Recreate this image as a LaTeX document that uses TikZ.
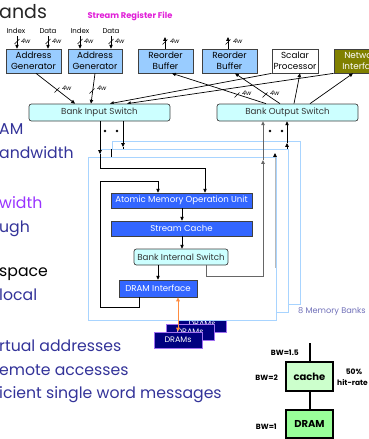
\documentclass[tikz,border=0pt]{standalone}
\usepackage{fontspec}
\setmainfont{Poppins}
\usetikzlibrary{arrows.meta,calc,backgrounds}
\definecolor{boxblue}{HTML}{99CCFF}
\definecolor{swcyan}{HTML}{CCFFFF}
\definecolor{unitblue}{HTML}{3366FF}
\definecolor{niolive}{HTML}{808000}
\definecolor{bankedge}{HTML}{A8D4FF}
\definecolor{dramnavy}{HTML}{000080}
\definecolor{dramedge}{HTML}{A070F0}
\definecolor{orng}{HTML}{FF8C40}
\definecolor{slideblue}{HTML}{333399}
\definecolor{slidepurple}{HTML}{9933FF}
\definecolor{srfmag}{HTML}{E020D8}
\definecolor{bankslabel}{HTML}{6F6FB8}
\definecolor{cachegreen}{HTML}{CCFFCC}
\definecolor{dramgreen}{HTML}{99FF99}
\newcommand{\fs}[1]{\fontsize{#1}{#1}\selectfont}
\newcommand{\wtick}[1]{\draw[line width=0.6pt] ($#1+(-2.5,2.5)$) -- ($#1+(2.5,-2.5)$);}
\tikzset{
 bul/.style={anchor=base west, inner sep=0pt, font=\fs{15.7}, text=slideblue},
 topbox/.style={draw=black!75, line width=0.7pt, fill=boxblue, minimum height=24pt, inner sep=0pt, align=center, font=\fontsize{8.8}{11}\selectfont},
 swbox/.style={draw=black!75, line width=0.7pt, fill=swcyan, rounded corners=2.5pt, minimum height=17pt, inner sep=0pt, font=\fs{8.7}, text=black!80},
 unitbox/.style={draw=black!75, line width=0.7pt, fill=unitblue, text=white, minimum height=15pt, inner sep=0pt, font=\fs{8.6}},
 bankbox/.style={draw=bankedge, line width=0.8pt, fill=white},
 drambox/.style={draw=dramedge, line width=0.8pt, fill=dramnavy, text=white, minimum width=48pt, minimum height=16pt, inner sep=0pt, font=\fs{8}},
 conn/.style={line width=0.7pt},
 outconn/.style={line width=1pt, draw=black!60},
 tip/.style={-{Triangle[length=3.8pt,width=3.4pt]}},
 wlab/.style={font=\itshape\fs{6.3}, inner sep=0pt, anchor=west},
 small/.style={font=\fs{7}, inner sep=0pt},
 bwlab/.style={font=\bfseries\fs{7.5}, inner sep=0pt},
 bwbox/.style={draw=black, line width=1.4pt, minimum width=47pt, inner sep=0pt, font=\bfseries\fs{10}},
}
\begin{document}
\begin{tikzpicture}[x=1pt,y=-1pt]
\useasboundingbox (0,0) rectangle (369,439);
\clip (0,0) rectangle (369,439);
% slide text fragments
\node[anchor=base west, inner sep=0pt, font=\fs{19}, text=black!85] (ttl) at (-1,19) {ands};
\node[anchor=base, inner sep=0pt, font=\bfseries\fs{8.3}, text=srfmag] (srf) at (130,18) {Stream Register File};
\node[bul] (b1) at (-1,134) {AM};
\node[bul] (b2) at (-1,158) {andwidth};
\node[bul, text=slidepurple] (b3) at (-1,208) {width};
\node[bul] (b4) at (-1,232) {ugh};
\node[bul, text=black] (b5) at (-1,276) {space};
\node[bul] (b6) at (-1,300) {local};
\node[bul] (b7) at (-1,351) {rtual addresses};
\node[bul] (b8) at (-1,375) {emote accesses};
\node[bul] (b9) at (-1,398) {icient single word messages};
% top row
\node[topbox, minimum width=55pt] (ag1) at (33.5,61) {Address\\Generator};
\node[topbox, minimum width=54pt] (ag2) at (95,61) {Address\\Generator};
\node[topbox, minimum width=55pt] (rb1) at (165.5,61) {Reorder\\Buffer};
\node[topbox, minimum width=55pt] (rb2) at (229.5,61) {Reorder\\Buffer};
\node[topbox, minimum width=46pt, fill=white] (sp) at (295,61) {Scalar\\Processor};
\node[topbox, minimum width=56pt, fill=niolive, text=white] (ni) at (362,61) {Network\\Interface};
\node[small] (i1) at (16,31) {Index};
\node[small] (d1) at (48,31) {Data};
\node[small] (i2) at (80,31) {Index};
\node[small] (d2) at (111,31) {Data};
\foreach \xx/\nn in {17/ag1,48/ag1,80/ag2,111/ag2}{
  \draw[conn,tip] (\xx,36) -- (\xx,0 |- \nn.north);
  \wtick{(\xx,41.5)}
  \node[wlab] at (\xx+4,41) {4w};
}
\foreach \xx/\nn in {165/rb1,228/rb2}{
  \draw[conn,tip] (\xx,0 |- \nn.north) -- (\xx,37);
  \wtick{(\xx,42)}
  \node[wlab] at (\xx+5,41) {4w};
}
% switches
\node[swbox, minimum width=141pt] (bis) at (99.5,112.5) {Bank Input Switch};
\node[swbox, minimum width=141pt] (bos) at (287.5,112.5) {Bank Output Switch};
% top connections
\draw[conn,tip] (36,0 |- ag1.south) -- (75,0 |- bis.north);
\wtick{(57,90)}
\node[wlab] at (62,88) {4w};
\draw[conn,tip] (95,0 |- ag2.south) -- (91,0 |- bis.north);
\wtick{(92,91)}
\node[wlab] at (97,88) {4w};
\begin{pgfonlayer}{background}
\draw[conn,tip] (sp.south west) -- (110,0 |- bis.north);
\draw[conn,tip] (ni.south west) -- (127,0 |- bis.north);
\end{pgfonlayer}
\draw[conn,tip] (266,0 |- bos.north) -- (172,0 |- rb1.south);
\draw[conn,tip] (280,0 |- bos.north) -- (235,0 |- rb2.south);
\draw[conn,tip] (294,0 |- bos.north) -- (300,0 |- sp.south);
\draw[conn,tip] (310,0 |- bos.north) -- (353,0 |- ni.south);
\wtick{(237,95)}
\node[wlab] at (242,93) {4w};
\wtick{(265,95)}
\node[wlab] at (270,93) {4w};
% dots
\foreach \p in {(105,131),(117,131),(270,131),(282,131)} \fill \p circle (1.3pt);
% back bank
\draw[bankbox] (112,141) rectangle (300,304);
\draw[conn,tip] (123,0 |- bis.south) -- (123,147);
\draw[conn] (123,147) -- (123,152);
\draw[conn,tip] (287,152) -- (287,143);
\draw[conn,tip] (287,143) -- (287,0 |- bos.south);
\node[drambox] (dr3) at (202,324) {DRAMs};
% middle bank
\draw[bankbox] (100,149) rectangle (288,312);
\draw[conn] (111.5,149) -- (111.5,160);
\draw[conn,tip] (275,160) -- (275,153);
% front bank
\draw[bankbox] (88,157) rectangle (276,320);
\draw[gray!55, line width=0.6pt] (275,157) -- (275,268);
\node[unitbox, minimum width=141pt] (amou) at (181.5,200.5) {Atomic Memory Operation Unit};
\node[unitbox, minimum width=141pt] (sc) at (181.5,228.5) {Stream Cache};
\node[swbox, minimum width=94pt, minimum height=16pt] (bints) at (181,257) {Bank Internal Switch};
\node[unitbox, minimum width=78pt, minimum height=17pt] (dif) at (158,288.5) {DRAM Interface};
\draw[conn,tip] (182,0 |- amou.south) -- (182,0 |- sc.north);
\draw[conn,tip] (182,0 |- sc.south) -- (182,0 |- bints.north);
\draw[conn,tip] (158,0 |- bints.south) -- (158,0 |- dif.north);
\draw[conn,tip] (139,0 |- dif.south) -- (139,307) -- (100,307) -- (100,181) -- (158,181) -- (158,0 |- amou.north);
\draw[conn,tip] (100,0 |- bis.south) -- (100,154);
\draw[conn,tip] (100,154) -- (100,168) -- (205,168) -- (205,0 |- amou.north);
\draw[outconn,tip] (206,0 |- bints.south) -- (206,276) -- (263,276) -- (263,160);
\draw[outconn,tip] (263,160) -- (263,0 |- bos.south);
% DRAMs
\node[drambox] (dr2) at (190,332) {DRAMs};
\node[drambox] (dr1) at (178,340) {DRAMs};
\draw[orng, line width=1pt, {Triangle[length=4pt,width=3.6pt]}-{Triangle[length=4pt,width=3.6pt]}] (178,0 |- dif.south) -- (178,0 |- dr1.north);
\node[anchor=base west, font=\fs{8.2}, text=bankslabel, inner sep=0pt] (mb) at (298,313) {8 Memory Banks};
% bandwidth sketch
\node[bwbox, fill=cachegreen, minimum height=29pt] (cache) at (309.5,376.5) {cache};
\node[bwbox, fill=dramgreen, minimum height=28pt] (dram) at (309.5,424) {DRAM};
\coordinate (bwtop) at (309.5,343);
\draw[line width=2pt] (bwtop) -- (cache.north);
\draw[line width=2pt] (cache.south) -- (dram.north);
\node[bwlab, anchor=east] (l1) at (299,353) {BW=1.5};
\node[bwlab, anchor=east] (l2) at (278,378) {BW=2};
\node[bwlab, anchor=east] (l3) at (277,427) {BW=1};
\node[bwlab] (l4) at (354,372) {50\%};
\node[bwlab, anchor=west] (l5) at (337,383) {hit-rate};
\end{tikzpicture}
\end{document}
